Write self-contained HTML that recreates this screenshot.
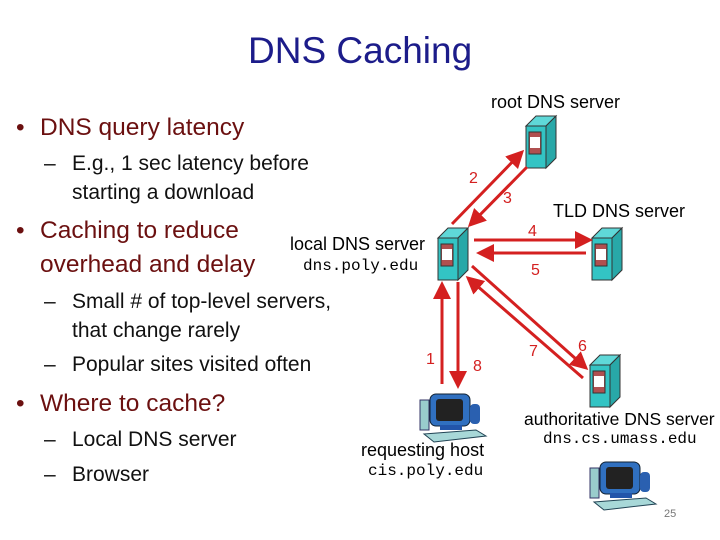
<!DOCTYPE html>
<html><head><meta charset="utf-8"><style>
body{margin:0;width:720px;height:540px;background:#fff;position:relative;overflow:hidden;font-family:"Liberation Sans",sans-serif}
.t{position:absolute;white-space:nowrap}
.b{color:#6b1010;font-size:24.5px}
.s{color:#111;font-size:21px}
.d{font-size:18px;color:#000}
.m{font-family:"Liberation Mono",monospace;font-size:16px;color:#000}
.n{color:#d42020;font-size:16px}
</style></head><body>
<div class="t" style="left:248px;top:30px;font-size:37px;color:#1c1c8a">DNS Caching</div>
<div class="t b" style="left:16px;top:114px">•</div><div class="t b" style="left:40px;top:114px">DNS query latency</div>
<div class="t s" style="left:44px;top:152px">–</div><div class="t s" style="left:72px;top:152px">E.g., 1 sec latency before</div>
<div class="t s" style="left:72px;top:181px">starting a download</div>
<div class="t b" style="left:16px;top:217px">•</div><div class="t b" style="left:40px;top:217px">Caching to reduce</div>
<div class="t b" style="left:40px;top:251px">overhead and delay</div>
<div class="t s" style="left:44px;top:290px">–</div><div class="t s" style="left:72px;top:290px">Small # of top-level servers,</div>
<div class="t s" style="left:72px;top:319px">that change rarely</div>
<div class="t s" style="left:44px;top:353px">–</div><div class="t s" style="left:72px;top:353px">Popular sites visited often</div>
<div class="t b" style="left:16px;top:390px">•</div><div class="t b" style="left:40px;top:390px">Where to cache?</div>
<div class="t s" style="left:44px;top:428px">–</div><div class="t s" style="left:72px;top:428px">Local DNS server</div>
<div class="t s" style="left:44px;top:463px">–</div><div class="t s" style="left:72px;top:463px">Browser</div>

<div class="t d" style="left:491px;top:92px">root DNS server</div>
<div class="t d" style="left:553px;top:201px">TLD DNS server</div>
<div class="t d" style="left:290px;top:234px">local DNS server</div>
<div class="t m" style="left:303px;top:257px">dns.poly.edu</div>
<div class="t d" style="left:361px;top:440px">requesting host</div>
<div class="t m" style="left:368px;top:462px">cis.poly.edu</div>
<div class="t d" style="left:524px;top:409px;font-size:17.5px">authoritative DNS server</div>
<div class="t m" style="left:543px;top:430px">dns.cs.umass.edu</div>
<div class="t" style="left:664px;top:508px;font-size:11px;color:#777">25</div>

<div class="t n" style="left:469px;top:170px">2</div>
<div class="t n" style="left:503px;top:190px">3</div>
<div class="t n" style="left:528px;top:223px">4</div>
<div class="t n" style="left:531px;top:262px">5</div>
<div class="t n" style="left:426px;top:351px">1</div>
<div class="t n" style="left:473px;top:358px">8</div>
<div class="t n" style="left:529px;top:343px">7</div>
<div class="t n" style="left:578px;top:338px">6</div>

<svg width="720" height="540" style="position:absolute;left:0;top:0">
<defs>
<marker id="a" markerWidth="6" markerHeight="6" refX="5" refY="3" orient="auto" markerUnits="strokeWidth"><path d="M0,0 L6,3 L0,6z" fill="#d42020"/></marker>
<g id="srv">
<polygon points="0,10 10,0 30,0 20,10" fill="#5fd8d8" stroke="#333" stroke-width="1"/>
<polygon points="20,10 30,0 30,42 20,52" fill="#28a8a8" stroke="#333" stroke-width="1"/>
<rect x="0" y="10" width="20" height="42" fill="#33c4c4" stroke="#333" stroke-width="1"/>
<rect x="3" y="16" width="12" height="22" fill="#b05050" stroke="#333" stroke-width="1"/>
<rect x="4" y="21" width="10" height="11" fill="#fff"/>
</g>
<g id="pc">
<rect x="0" y="8" width="9" height="30" fill="#9cc" stroke="#336" stroke-width="1"/>
<rect x="10" y="2" width="40" height="32" rx="6" fill="#3070c0" stroke="#123" stroke-width="1"/>
<rect x="16" y="7" width="27" height="22" rx="3" fill="#222"/>
<rect x="20" y="33" width="22" height="5" fill="#25a"/>
<polygon points="4,42 56,38 66,44 14,50" fill="#a8d8d8" stroke="#245" stroke-width="1"/>
<rect x="50" y="12" width="10" height="20" rx="4" fill="#2a60b0"/>
</g>
</defs>
<use href="#srv" x="526" y="116"/>
<use href="#srv" x="592" y="228"/>
<use href="#srv" x="438" y="228"/>
<use href="#srv" x="590" y="355"/>
<use href="#pc" x="420" y="392"/>
<use href="#pc" x="590" y="460"/>
<g stroke="#d42020" stroke-width="3" fill="none" marker-end="url(#a)">
<line x1="452" y1="224" x2="522" y2="152"/>
<line x1="527" y1="167" x2="470" y2="225"/>
<line x1="474" y1="240" x2="590" y2="240"/>
<line x1="586" y1="253" x2="479" y2="253"/>
<line x1="442" y1="384" x2="442" y2="284"/>
<line x1="458" y1="282" x2="458" y2="386"/>
<line x1="583" y1="378" x2="468" y2="278"/>
<line x1="472" y1="266" x2="586" y2="368"/>
</g>
</svg>
</body></html>
